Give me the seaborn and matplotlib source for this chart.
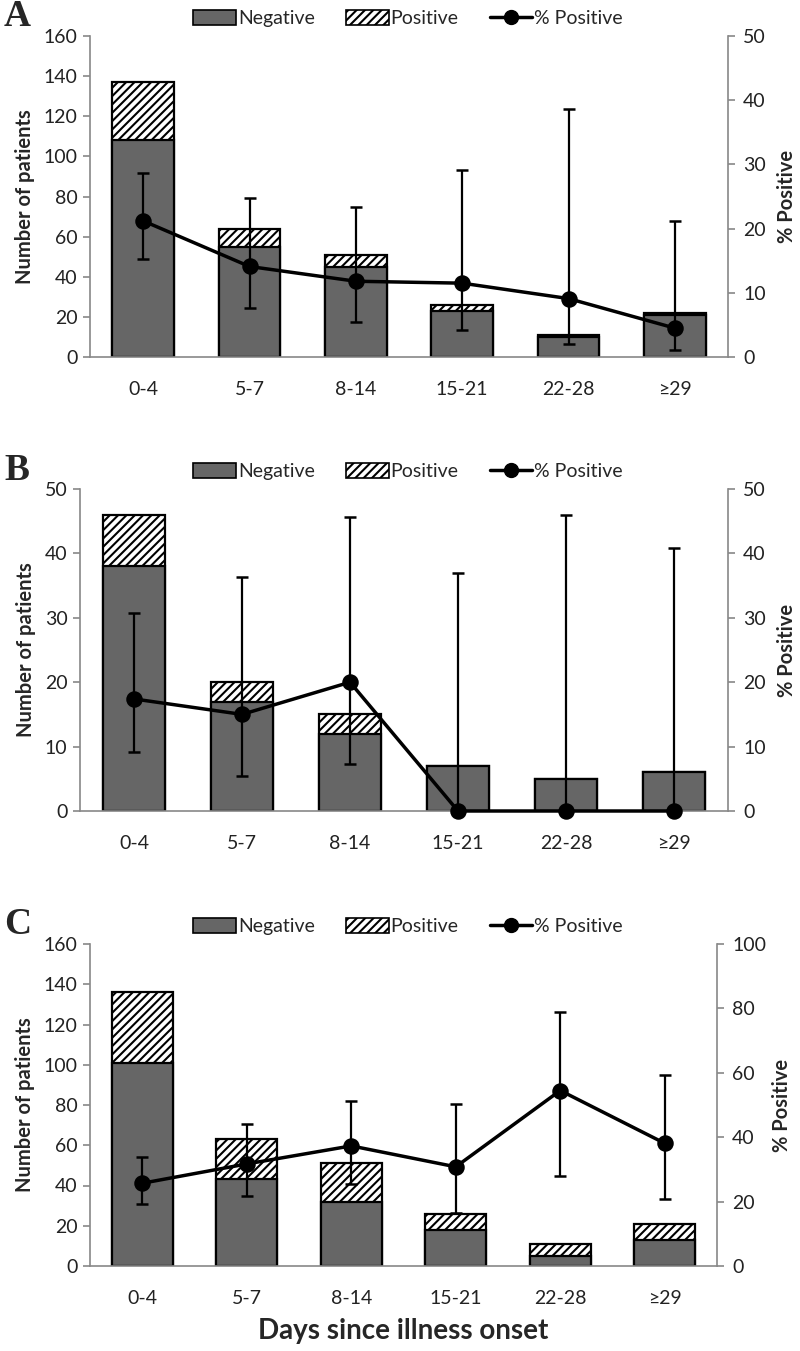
import numpy as np
import pandas as pd
import matplotlib
matplotlib.use("Agg")
import matplotlib.pyplot as plt
import seaborn as sns
from matplotlib.patches import Patch
from matplotlib.lines import Line2D

days = ['0-4', '5-7', '8-14', '15-21', '22-28', '≥29']

# panel A
neg_a = [108, 55, 45, 23, 10, 21]
pos_a = [29, 9, 6, 3, 1, 1]
pct_a = [21.2, 14.1, 11.8, 11.5, 9.1, 4.5]
lo_a = [15.2, 7.6, 5.5, 4.2, 2.1, 1.1]
hi_a = [28.7, 24.7, 23.4, 29.1, 38.6, 21.2]

# panel B
neg_b = [38, 17, 12, 7, 5, 6]
pos_b = [8, 3, 3, 0, 0, 0]
pct_b = [17.4, 15.0, 20.0, 0.0, 0.0, 0.0]
lo_b = [9.1, 5.4, 7.3, 0.0, 0.0, 0.0]
hi_b = [30.8, 36.3, 45.6, 36.9, 45.9, 40.9]

# panel C
neg_c = [101, 43, 32, 18, 5, 13]
pos_c = [35, 20, 19, 8, 6, 8]
pct_c = [25.7, 31.7, 37.3, 30.8, 54.5, 38.1]
lo_c = [19.4, 21.8, 25.4, 16.5, 27.9, 20.8]
hi_c = [33.8, 44.0, 51.3, 50.2, 79.0, 59.3]

panels = [
    ('A', neg_a, pos_a, pct_a, lo_a, hi_a, 160, 20, 50, 10),
    ('B', neg_b, pos_b, pct_b, lo_b, hi_b, 50, 10, 50, 10),
    ('C', neg_c, pos_c, pct_c, lo_c, hi_c, 160, 20, 100, 20),
]

sns.set_style('white')
plt.rcParams['font.family'] = ['Lato', 'DejaVu Sans']
plt.rcParams['hatch.linewidth'] = 1.5

GRAY = '#666666'
AXIS = '#888888'
FS = 14

W, H = 800, 1351
fig = plt.figure(figsize=(8, 13.51), dpi=100)
# axes boxes in pixels: left, right, top, bottom
boxes = [(90, 728, 36, 357), (80, 728, 489, 811), (90, 717, 944, 1266)]

for (letter, neg, pos, pct, lo, hi, lmax, lstep, rmax, rstep), (l, r, t, bt) in zip(panels, boxes):
    ax = fig.add_axes([l / W, 1 - bt / H, (r - l) / W, (bt - t) / H])
    df = pd.DataFrame({'days': days, 'neg': neg, 'total': np.add(neg, pos)})

    sns.barplot(data=df, x='days', y='total', color='white', saturation=1,
                width=0.58, edgecolor='black', linewidth=1.6, hatch='////', ax=ax)
    sns.barplot(data=df, x='days', y='neg', color=GRAY, saturation=1,
                width=0.58, edgecolor='black', linewidth=1.6, ax=ax)

    ax.set_ylim(0, lmax)
    ax.set_yticks(np.arange(0, lmax + 1, lstep))
    ax.set_xlim(-0.5, 5.5)
    ax.set_xticks(range(len(days)))
    ax.set_xticklabels(days)
    ax.set_xticks(np.arange(-0.5, 6, 1), minor=True)
    ax.tick_params(axis='x', which='major', length=0, pad=17, labelsize=FS, colors='#222222')
    ax.tick_params(axis='x', which='minor', length=5, width=1.2, color=AXIS, direction='out')
    ax.tick_params(axis='y', length=5, width=1.2, color=AXIS, direction='out', labelsize=FS,
                   labelcolor='#222222', pad=4)
    ax.set_xlabel('')
    ax.set_ylabel('Number of patients', fontsize=14.5, fontweight='bold', labelpad=6)
    for s in ['top', 'right']:
        ax.spines[s].set_visible(False)
    for s in ['left', 'bottom']:
        ax.spines[s].set_color(AXIS)
        ax.spines[s].set_linewidth(1.2)

    ax2 = ax.twinx()
    sns.pointplot(x=days, y=pct, color='black', markers='o', markersize=10,
                  linewidth=2.5, errorbar=None, ax=ax2)
    ax2.errorbar(range(len(days)), pct,
                 yerr=[np.subtract(pct, lo), np.subtract(hi, pct)],
                 fmt='none', ecolor='black', elinewidth=1.6, capsize=4.5, capthick=1.8,
                 zorder=1)
    for art in ax2.lines + ax2.collections:
        art.set_clip_on(False)
    ax2.set_ylim(0, rmax)
    ax2.set_yticks(np.arange(0, rmax + 1, rstep))
    ax2.set_xlim(-0.5, 5.5)
    ax2.tick_params(axis='y', length=5, width=1.2, color=AXIS, direction='out', labelsize=FS,
                    labelcolor='#222222', pad=6)
    ax2.set_ylabel('% Positive', fontsize=14.5, fontweight='bold', labelpad=8 if rmax < 100 else 4)
    for s in ['top', 'left', 'bottom']:
        ax2.spines[s].set_visible(False)
    ax2.spines['right'].set_color(AXIS)
    ax2.spines['right'].set_linewidth(1.2)

    handles = [
        Patch(facecolor=GRAY, edgecolor='black', linewidth=1.2, label='Negative'),
        Patch(facecolor='white', edgecolor='black', linewidth=1.2, hatch='////', label='Positive'),
        Line2D([], [], color='black', lw=2.5, marker='o', markersize=10, label='% Positive'),
    ]
    cx = (408 - l) / (r - l)
    ax.legend(handles=handles, loc='lower center', bbox_to_anchor=(cx, 0.985), ncol=3,
              frameon=False, fontsize=FS, handlelength=2.2, handleheight=0.75,
              columnspacing=1.6, handletextpad=0.1, borderpad=0.2)

    fig.text(0.005, 1 - (t - 19) / H, letter, family='Liberation Serif',
             fontweight='bold', fontsize=27, va='center', ha='left')

    if letter == 'C':
        ax.set_xlabel('Days since illness onset', fontsize=20, fontweight='bold', labelpad=8)

fig.savefig('out.png', dpi=100)
